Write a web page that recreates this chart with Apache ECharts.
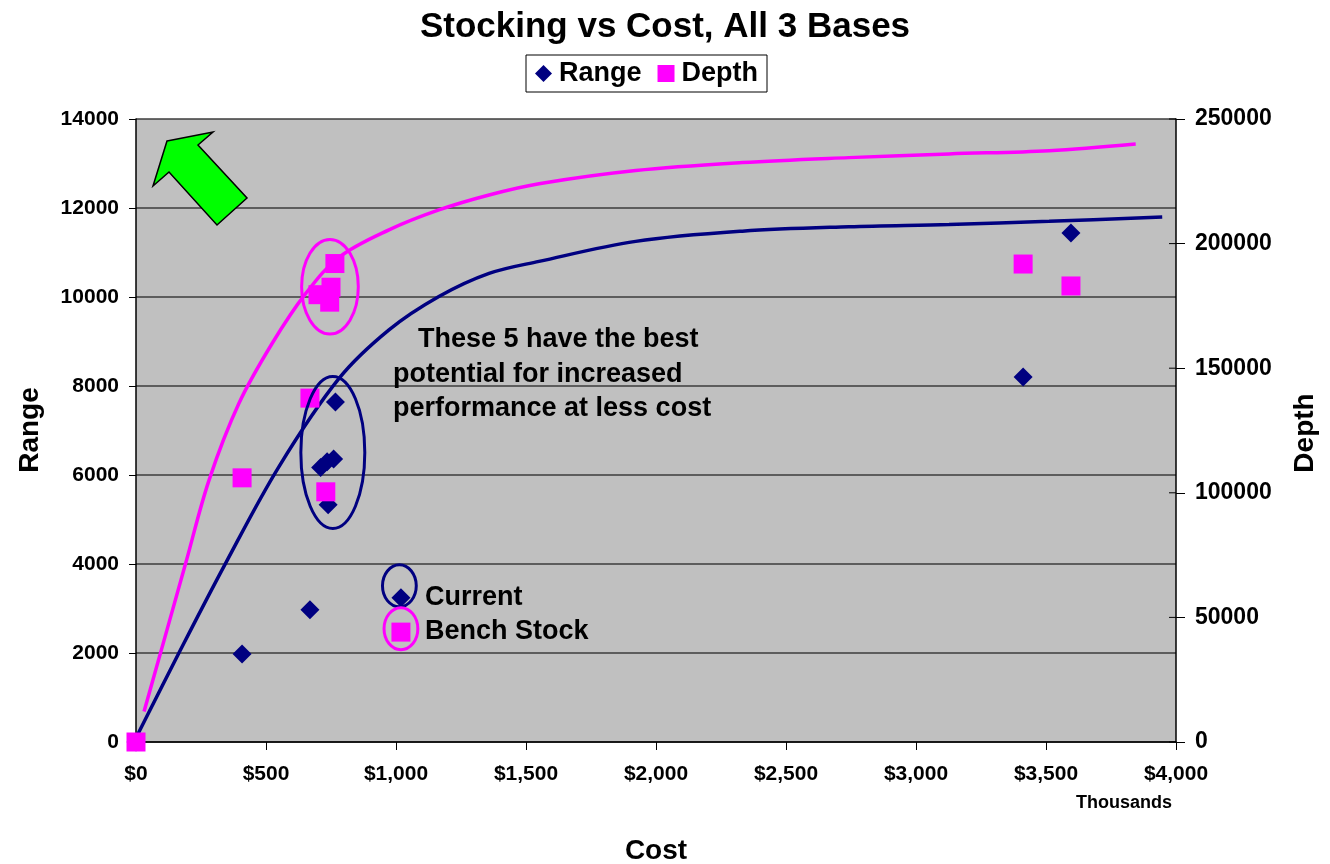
<!DOCTYPE html>
<html>
<head>
<meta charset="utf-8">
<script src="https://cdn.jsdelivr.net/npm/echarts@6/dist/echarts.min.js"></script>
<style>
  html, body { margin: 0; padding: 0; background: #fff; }
  #chart { width: 1330px; height: 864px; }
</style>
</head>
<body>
<div id="chart"></div>
<script>
// scatter points (cost in thousands of $)
var rangeCost = [0, 408, 669, 710, 735, 760, 767, 739, 3412, 3596];
var rangeVals = [0, 1980, 2970, 6170, 6300, 6360, 7640, 5330, 8200, 11440];
var depthCost = [0, 408, 669, 700, 745, 750, 765, 730, 3412, 3596];
var depthVals = [0, 106000, 138000, 179500, 176500, 182500, 192000, 100400, 191800, 183000];

// trend lines
var rangeTrendCost = [5, 165, 345, 550, 781, 973, 1165, 1358, 1550, 1922, 2332, 2742, 3127, 3512, 3947];
var rangeTrendVals = [150, 2000, 4020, 6190, 8170, 9260, 10010, 10530, 10800, 11250, 11480, 11580, 11630, 11700, 11800];
var depthTrendCost = [31, 191, 281, 396, 524, 653, 781, 973, 1165, 1358, 1550, 1922, 2332, 2742, 3127, 3512, 3845];
var depthTrendVals = [12200, 71700, 105100, 135900, 160000, 180000, 194500, 205500, 213500, 219500, 224000, 229300, 232500, 234500, 236000, 237300, 240000];

// the two key markers ("Current", "Bench Stock")
var currentPt = [1019, 3240];
var benchPt = [1019, 44100];

var NAVY = '#000080';
var PINK = '#ff00ff';
var FONT = '"Liberation Sans", Arial, sans-serif';

function zip(a, b) {
  var out = [];
  for (var i = 0; i < a.length; i++) out.push([a[i], b[i]]);
  return out;
}

var chart = echarts.init(document.getElementById('chart'));

var option = {
  animation: false,
  backgroundColor: '#ffffff',
  textStyle: { fontFamily: FONT },
  title: {
    text: 'Stocking vs Cost, All 3 Bases',
    left: 'center',
    top: 5,
    textStyle: { fontSize: 35, fontWeight: 'bold', color: '#000', fontFamily: FONT }
  },
  legend: {
    left: 526,
    top: 55,
    padding: [5, 9, 5, 9],
    itemGap: 16,
    itemWidth: 17,
    itemHeight: 17,
    borderColor: '#000',
    borderWidth: 1,
    backgroundColor: '#fff',
    textStyle: { fontSize: 27, fontWeight: 'bold', color: '#000', fontFamily: FONT, padding: [0, 0, 0, 2] },
    data: [
      { name: 'Range', icon: 'diamond' },
      { name: 'Depth', icon: 'rect' }
    ]
  },
  grid: {
    left: 136,
    right: 154,
    top: 119,
    bottom: 122,
    show: true,
    backgroundColor: '#c0c0c0',
    borderWidth: 0
  },
  xAxis: {
    type: 'value',
    min: 0,
    max: 4000,
    interval: 500,
    axisLine: { lineStyle: { color: '#000', width: 1.5 } },
    axisTick: { show: true, length: 8, lineStyle: { color: '#000' } },
    splitLine: { show: false },
    axisLabel: {
      margin: 22,
      fontSize: 21,
      fontWeight: 'bold',
      color: '#000',
      fontFamily: FONT,
      formatter: function (v) { return '$' + v.toLocaleString('en-US'); }
    }
  },
  yAxis: [
    {
      type: 'value',
      min: 0,
      max: 14000,
      interval: 2000,
      axisLine: { show: true, lineStyle: { color: '#000', width: 1.5 } },
      axisTick: { show: true, length: 7, lineStyle: { color: '#000' } },
      splitLine: { show: true, lineStyle: { color: '#3c3c3c', width: 1.5 } },
      axisLabel: {
        margin: 17, fontSize: 21, fontWeight: 'bold', color: '#000', fontFamily: FONT,
        formatter: function (v) { return String(v); }
      }
    },
    {
      type: 'value',
      min: 0,
      max: 250000,
      interval: 50000,
      position: 'right',
      axisLine: { show: true, lineStyle: { color: '#000', width: 1.5 } },
      axisTick: { show: true, length: 9, lineStyle: { color: '#000' } },
      splitLine: { show: false },
      axisLabel: {
        margin: 19, fontSize: 23, fontWeight: 'bold', color: '#000', fontFamily: FONT,
        formatter: function (v) { return String(v); }
      }
    }
  ],
  series: [
    {
      name: 'Range trend',
      type: 'line',
      yAxisIndex: 0,
      smooth: 0.35,
      showSymbol: false,
      lineStyle: { color: NAVY, width: 3.5 },
      data: zip(rangeTrendCost, rangeTrendVals),
      z: 2
    },
    {
      name: 'Depth trend',
      type: 'line',
      yAxisIndex: 1,
      smooth: 0.35,
      showSymbol: false,
      lineStyle: { color: PINK, width: 3.5 },
      data: zip(depthTrendCost, depthTrendVals),
      z: 2
    },
    {
      name: 'Range',
      type: 'scatter',
      yAxisIndex: 0,
      symbol: 'diamond',
      symbolSize: 19,
      itemStyle: { color: NAVY, opacity: 1 },
      data: zip(rangeCost, rangeVals),
      z: 3
    },
    {
      name: 'Depth',
      type: 'scatter',
      yAxisIndex: 1,
      symbol: 'rect',
      symbolSize: 19,
      itemStyle: { color: PINK, opacity: 1 },
      data: zip(depthCost, depthVals),
      z: 4
    },
    {
      name: 'Current',
      type: 'scatter',
      yAxisIndex: 0,
      symbol: 'diamond',
      symbolSize: 19,
      itemStyle: { color: NAVY, opacity: 1 },
      data: [currentPt],
      z: 4
    },
    {
      name: 'Bench Stock',
      type: 'scatter',
      yAxisIndex: 1,
      symbol: 'rect',
      symbolSize: 19,
      itemStyle: { color: PINK, opacity: 1 },
      data: [benchPt],
      z: 4
    }
  ]
};

chart.setOption(option);

// ellipse annotations, defined in data units: [cx, cy, rx, ry, axisIndex, color]
var ellipses = [
  [746, 182700, 109, 18980, 1, PINK],
  [757, 6506, 123, 1708, 0, NAVY],
  [1013, 3510, 65, 472, 0, NAVY],
  [1019, 45470, 65, 8430, 1, PINK]
];

function toPx(axis, pt) {
  return chart.convertToPixel({ xAxisIndex: 0, yAxisIndex: axis }, pt);
}

var graphics = [];
ellipses.forEach(function (e) {
  var c = toPx(e[4], [e[0], e[1]]);
  var edge = toPx(e[4], [e[0] + e[2], e[1] + e[3]]);
  graphics.push({
    type: 'ellipse',
    shape: { cx: c[0], cy: c[1], rx: Math.abs(edge[0] - c[0]), ry: Math.abs(edge[1] - c[1]) },
    style: { fill: 'none', stroke: e[5], lineWidth: 3 },
    z: 10
  });
});

// green arrow
graphics.push({
  type: 'polygon',
  shape: { points: [[167, 141], [213, 132], [198, 145], [247, 198], [217, 225], [169, 172], [153, 186]] },
  style: { fill: '#00ff00', stroke: '#000', lineWidth: 1.5 },
  z: 10
});

// right axis ticks in the original cross the axis line
[0, 50000, 100000, 150000, 200000, 250000].forEach(function (v) {
  var p = toPx(1, [4000, v]);
  graphics.push({
    type: 'line',
    shape: { x1: p[0] - 7, y1: p[1], x2: p[0], y2: p[1] },
    style: { stroke: '#000', lineWidth: 1 },
    z: 9
  });
});

var noteStyle = { fontSize: 27, fontWeight: 'bold', fill: '#000', fontFamily: FONT, textVerticalAlign: 'middle' };
function txt(s, x, y, extra) {
  var st = Object.assign({ text: s }, noteStyle, extra || {});
  return { type: 'text', x: x, y: y, style: st, z: 11 };
}
graphics.push(txt('These 5 have the best', 418, 340));
graphics.push(txt('potential for increased', 393, 375));
graphics.push(txt('performance at less cost', 393, 409));
graphics.push(txt('Current', 425, 598));
graphics.push(txt('Bench Stock', 425, 632));

// axis names
graphics.push(txt('Thousands', 1124, 803, { fontSize: 18, textAlign: 'center' }));
graphics.push(txt('Cost', 656, 851, { fontSize: 28, textAlign: 'center' }));
graphics.push({
  type: 'text', x: 30, y: 430, rotation: Math.PI / 2,
  style: Object.assign({ text: 'Range' }, noteStyle, { fontSize: 28, textAlign: 'center' }), z: 11
});
graphics.push({
  type: 'text', x: 1305, y: 433, rotation: Math.PI / 2,
  style: Object.assign({ text: 'Depth' }, noteStyle, { fontSize: 28, textAlign: 'center' }), z: 11
});

chart.setOption({ graphic: graphics });
</script>
</body>
</html>
